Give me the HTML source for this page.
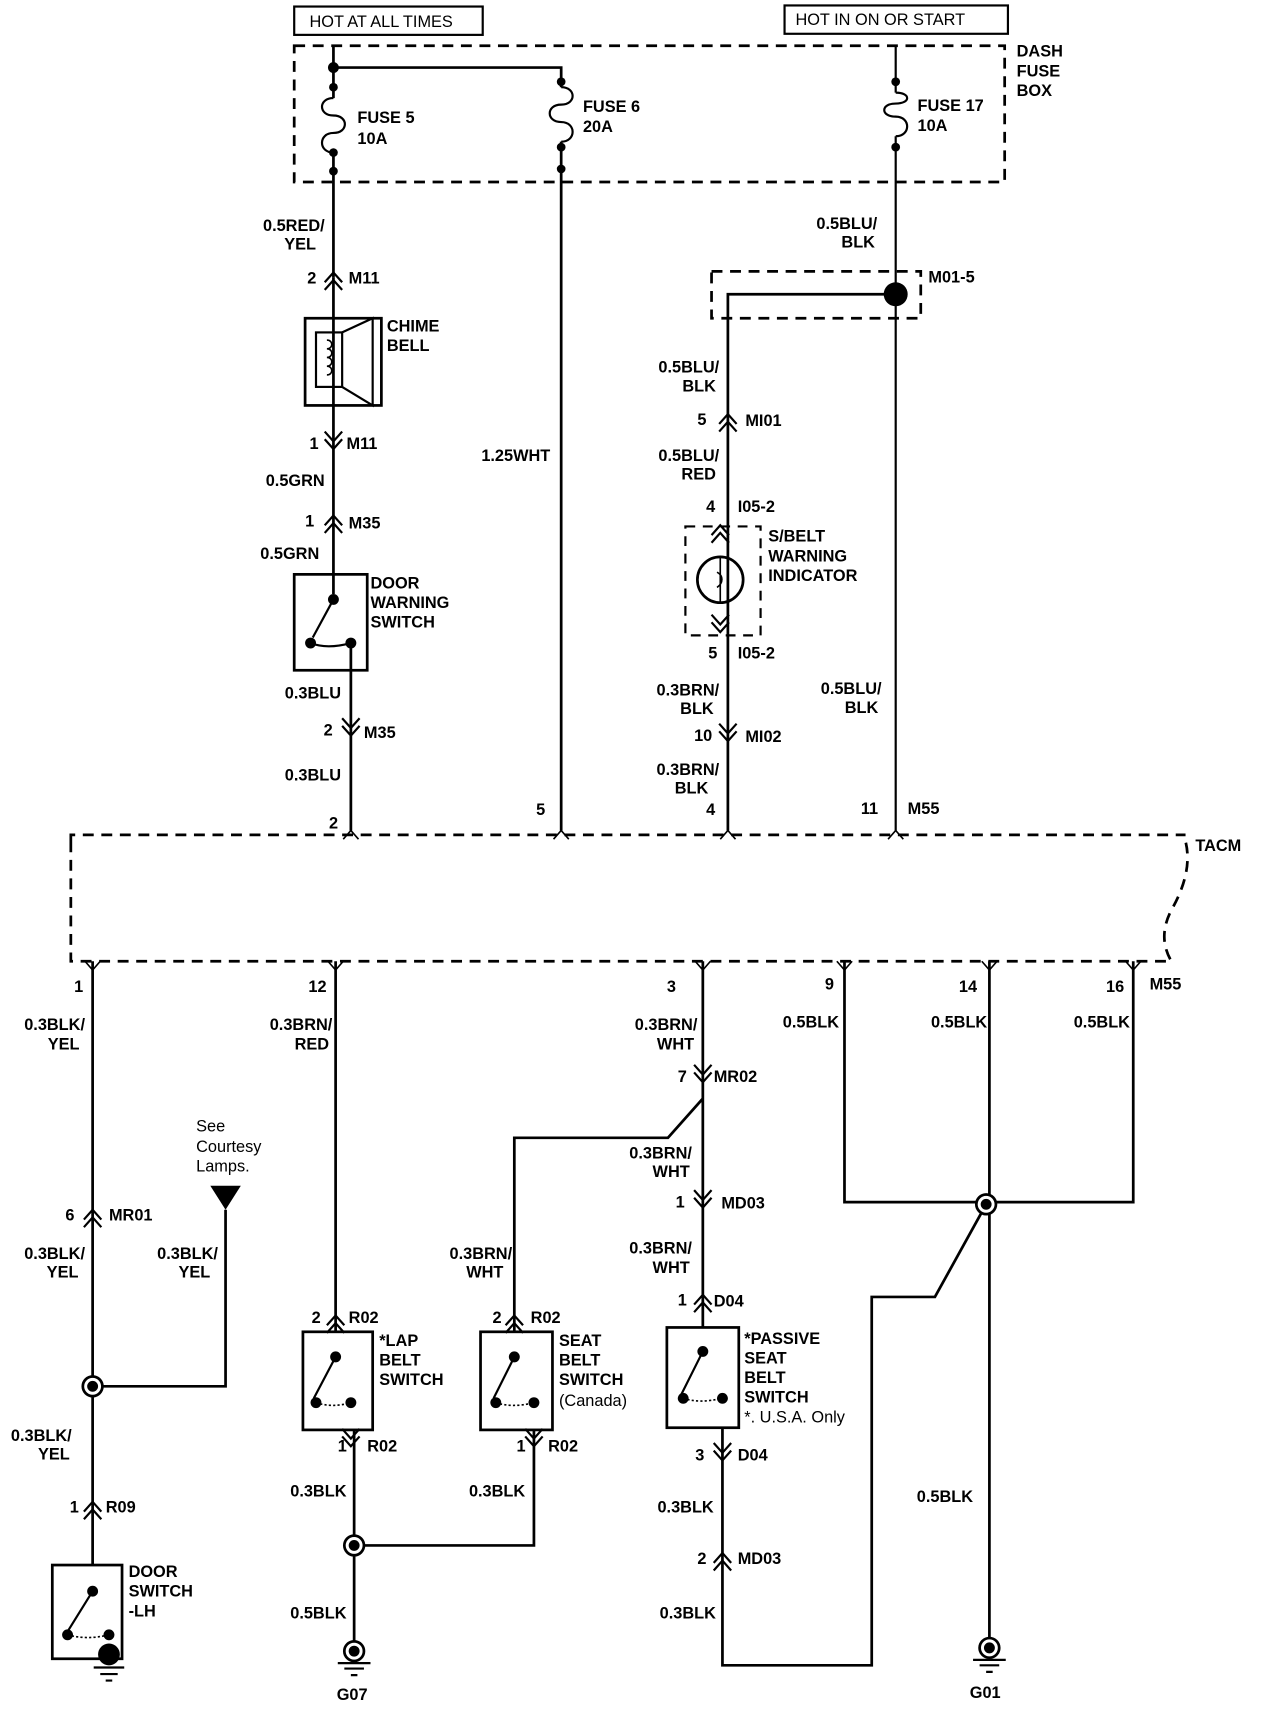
<!DOCTYPE html>
<html><head><meta charset="utf-8"><style>
html,body{margin:0;padding:0;background:#fff}
svg{display:block}
text{font-family:"Liberation Sans",Arial,sans-serif;font-weight:bold;font-size:15px;fill:#000}
.r{text-anchor:end}
.n{font-weight:normal}
</style></head><body>
<svg width="1264" height="1710" viewBox="0 0 1160 1569" preserveAspectRatio="none" xmlns="http://www.w3.org/2000/svg">
<defs>
<path id="up" d="M-8,4 L0,-5 L8,4 M-8,11 L0,2 L8,11" fill="none" stroke="#000" stroke-width="2"/>
<path id="dn" d="M-8,-4 L0,5 L8,-4 M-8,-11 L0,-2 L8,-11" fill="none" stroke="#000" stroke-width="2"/>
<path id="tv" d="M-7,-6 L0,2 L7,-6" fill="none" stroke="#000" stroke-width="1.5"/>
<g id="jn"><circle r="9" fill="#fff" stroke="#000" stroke-width="2.5"/><circle r="5" fill="#000"/></g>
<g id="gnd"><circle r="9" fill="#fff" stroke="#000" stroke-width="2.5"/><circle r="5" fill="#000"/><path d="M-15,11 H15 M-9,16 H9 M-3,22 H3" stroke="#000" stroke-width="2"/></g>
</defs>
<g fill="none" stroke="#000" stroke-width="2.5">
<!-- top boxes -->
<rect x="270" y="6" width="173" height="26" stroke-width="2"/>
<rect x="720" y="5" width="205" height="26" stroke-width="2"/>
<rect x="270" y="42" width="652" height="125" stroke-dasharray="10,7" stroke-width="2.5"/>
<!-- fuse 5 -->
<path d="M306,42 V90 M306,140 V255 M306,62 H515 V80 M515,130 V762"/>
<path d="M306,90 c-14,0 -14,16 0,16 c14,0 14,16 0,16 c-14,0 -14,18 0,18 M515,80 c14,0 14,16 0,16 c-14,0 -14,16 0,16 c14,0 14,18 0,18" stroke-width="2"/>
<path d="M822,42 V85 M822,125 V762 M822,85 c14,0 14,10 0,10 c-14,0 -14,12 0,12 c14,0 14,18 0,18" stroke-width="2"/>
<!-- left column -->
<path d="M306,255 V527 M306,527 V545 M322,590 V762"/>
<rect x="280" y="292" width="70" height="80"/>
<rect x="290" y="305" width="24" height="50" stroke-width="2"/>
<path d="M314,305 L342,292 V372 L314,355" stroke-width="2"/>
<path d="M300,312 c6,0 6,8 0,8 c6,0 6,8 0,8 c6,0 6,8 0,8 c6,0 6,8 0,8" stroke-width="1.5"/>
<rect x="270" y="527" width="67" height="88"/>
<path d="M306,550 L287,585 M285,590 Q300,596 322,590" stroke-width="2"/>
<!-- 1.25 WHT / right -->
<path d="M822,270 H668 V762"/>
<rect x="653" y="249" width="192" height="43" stroke-dasharray="10,7"/>
<rect x="629" y="483" width="69" height="100" stroke-dasharray="9,7" stroke-width="2"/>
<circle cx="661" cy="532" r="21" stroke-width="2.5"/>
<!-- TACM -->
<path d="M65,772 V882 H1075 Q1062,860 1075,835 Q1095,800 1088,772 M65,772 V766 H1088" stroke-dasharray="10,7"/>
<!-- bottom wires -->
<path d="M85,882 V1436 M85,1272 H207 V1110"/>
<path d="M308,882 V1222 M325,1312 V1510 M325,1418 H490 V1312"/>
<path d="M645,882 V1008 L613,1044 H472 V1222 M645,1008 V1218 M663,1310 V1528 H800 V1190 H858 L905,1105"/>
<path d="M775,882 V1103 H1040 V882 M908,882 V1510"/>
<rect x="48" y="1436" width="64" height="86"/>
<rect x="278" y="1222" width="64" height="90"/>
<rect x="441" y="1222" width="66" height="90"/>
<rect x="612" y="1218" width="66" height="92"/>
<path d="M85,1460 L62,1497 M308,1245 L288,1283 M472,1245 L453,1283 M645,1240 L625,1280" stroke-width="2"/>
<path d="M62,1500 Q80,1505 100,1500 M290,1287 Q305,1292 322,1287 M455,1287 Q470,1292 490,1287 M627,1283 Q642,1288 663,1283" stroke-width="1.5" stroke-dasharray="2,2"/>
</g>
<g fill="#000">
<circle cx="306" cy="62" r="5"/><circle cx="306" cy="80" r="4"/><circle cx="306" cy="140" r="4"/><circle cx="306" cy="157" r="4"/>
<circle cx="515" cy="75" r="4"/><circle cx="515" cy="135" r="4"/><circle cx="515" cy="155" r="4"/>
<circle cx="822" cy="75" r="4"/><circle cx="822" cy="135" r="4"/>
<circle cx="822" cy="270" r="11"/>
<circle cx="306" cy="550" r="5"/><circle cx="285" cy="590" r="5"/><circle cx="322" cy="590" r="5"/>
<circle cx="85" cy="1460" r="5"/><circle cx="62" cy="1500" r="5"/><circle cx="100" cy="1500" r="5"/>
<circle cx="308" cy="1245" r="5"/><circle cx="290" cy="1287" r="5"/><circle cx="322" cy="1287" r="5"/>
<circle cx="472" cy="1245" r="5"/><circle cx="455" cy="1287" r="5"/><circle cx="490" cy="1287" r="5"/>
<circle cx="645" cy="1240" r="5"/><circle cx="627" cy="1283" r="5"/><circle cx="663" cy="1283" r="5"/>
<path d="M193,1088 H221 L207,1110 Z"/>
<circle cx="100" cy="1518" r="10"/>
</g>
<path d="M86,1530 H114 M92,1536 H108 M97,1542 H103" stroke="#000" stroke-width="2"/>
<path d="M661,511 V553 M658,525 c6,3 6,10 0,14" stroke="#000" stroke-width="1.5" fill="none"/>
<use href="#up" x="306" y="255"/><use href="#dn" x="306" y="407"/><use href="#up" x="306" y="478"/><use href="#dn" x="322" y="670"/>
<use href="#up" x="668" y="385"/><use href="#up" x="661" y="487"/><use href="#dn" x="661" y="575"/><use href="#dn" x="668" y="675"/>
<use href="#up" x="85" y="1115"/><use href="#up" x="85" y="1383"/><use href="#up" x="308" y="1212"/><use href="#dn" x="322" y="1322"/>
<use href="#up" x="472" y="1212"/><use href="#dn" x="490" y="1322"/><use href="#dn" x="645" y="988"/><use href="#dn" x="645" y="1103"/>
<use href="#up" x="645" y="1193"/><use href="#dn" x="663" y="1335"/><use href="#up" x="663" y="1430"/>
<use href="#tv" x="322" y="768" transform="rotate(180 322 766)"/><use href="#tv" x="515" y="768" transform="rotate(180 515 766)"/><use href="#tv" x="668" y="768" transform="rotate(180 668 766)"/><use href="#tv" x="822" y="768" transform="rotate(180 822 766)"/>
<use href="#tv" x="85" y="888"/><use href="#tv" x="308" y="888"/><use href="#tv" x="645" y="888"/><use href="#tv" x="775" y="888"/><use href="#tv" x="908" y="888"/><use href="#tv" x="1040" y="888"/>
<use href="#jn" x="85" y="1272"/><use href="#jn" x="325" y="1418"/><use href="#jn" x="905" y="1105"/>
<use href="#gnd" x="325" y="1515"/><use href="#gnd" x="908" y="1512"/>
<g>
<text class="n" x="284" y="25">HOT AT ALL TIMES</text>
<text class="n" x="730" y="23">HOT IN ON OR START</text>
<text x="933" y="52">DASH</text><text x="933" y="70">FUSE</text><text x="933" y="88">BOX</text>
<text x="328" y="113">FUSE 5</text><text x="328" y="132">10A</text>
<text x="535" y="103">FUSE 6</text><text x="535" y="121">20A</text>
<text x="842" y="102">FUSE 17</text><text x="842" y="120">10A</text>
<text class="r" x="298" y="212">0.5RED/</text><text class="r" x="290" y="229">YEL</text>
<text x="282" y="260">2</text><text x="320" y="260">M11</text>
<text x="355" y="304">CHIME</text><text x="355" y="322">BELL</text>
<text x="284" y="412">1</text><text x="318" y="412">M11</text>
<text class="r" x="298" y="446">0.5GRN</text>
<text x="280" y="483">1</text><text x="320" y="485">M35</text>
<text class="r" x="293" y="513">0.5GRN</text>
<text x="340" y="540">DOOR</text><text x="340" y="558">WARNING</text><text x="340" y="576">SWITCH</text>
<text class="r" x="313" y="641">0.3BLU</text>
<text x="297" y="675">2</text><text x="334" y="677">M35</text>
<text class="r" x="313" y="716">0.3BLU</text>
<text x="302" y="760">2</text><text x="492" y="748">5</text><text x="648" y="748">4</text><text x="790" y="747">11</text><text x="833" y="747">M55</text>
<text class="r" x="505" y="423">1.25WHT</text>
<text class="r" x="805" y="210">0.5BLU/</text><text class="r" x="803" y="227">BLK</text>
<text x="852" y="259">M01-5</text>
<text class="r" x="660" y="342">0.5BLU/</text><text class="r" x="657" y="359">BLK</text>
<text x="640" y="390">5</text><text x="684" y="391">MI01</text>
<text class="r" x="660" y="423">0.5BLU/</text><text class="r" x="657" y="440">RED</text>
<text x="648" y="470">4</text><text x="677" y="470">I05-2</text>
<text x="705" y="497">S/BELT</text><text x="705" y="515">WARNING</text><text x="705" y="533">INDICATOR</text>
<text x="650" y="604">5</text><text x="677" y="604">I05-2</text>
<text class="r" x="660" y="638">0.3BRN/</text><text class="r" x="655" y="655">BLK</text>
<text x="637" y="680">10</text><text x="684" y="681">MI02</text>
<text class="r" x="660" y="711">0.3BRN/</text><text class="r" x="650" y="728">BLK</text>
<text class="r" x="809" y="637">0.5BLU/</text><text class="r" x="806" y="654">BLK</text>
<text x="1097" y="781">TACM</text>
<text x="68" y="910">1</text><text x="283" y="910">12</text><text x="612" y="910">3</text><text x="757" y="908">9</text><text x="880" y="910">14</text><text x="1015" y="910">16</text><text x="1055" y="908">M55</text>
<text class="r" x="78" y="945">0.3BLK/</text><text class="r" x="73" y="963">YEL</text>
<text class="r" x="305" y="945">0.3BRN/</text><text class="r" x="302" y="963">RED</text>
<text class="r" x="640" y="945">0.3BRN/</text><text class="r" x="637" y="963">WHT</text>
<text class="r" x="770" y="943">0.5BLK</text><text class="r" x="906" y="943">0.5BLK</text><text class="r" x="1037" y="943">0.5BLK</text>
<text x="622" y="993">7</text><text x="655" y="993">MR02</text>
<text class="n" x="180" y="1038">See</text><text class="n" x="180" y="1057">Courtesy</text><text class="n" x="180" y="1075">Lamps.</text>
<text x="60" y="1120">6</text><text x="100" y="1120">MR01</text>
<text class="r" x="635" y="1063">0.3BRN/</text><text class="r" x="633" y="1080">WHT</text>
<text x="620" y="1108">1</text><text x="662" y="1109">MD03</text>
<text class="r" x="78" y="1155">0.3BLK/</text><text class="r" x="72" y="1172">YEL</text>
<text class="r" x="200" y="1155">0.3BLK/</text><text class="r" x="193" y="1172">YEL</text>
<text class="r" x="470" y="1155">0.3BRN/</text><text class="r" x="462" y="1172">WHT</text>
<text class="r" x="635" y="1150">0.3BRN/</text><text class="r" x="633" y="1168">WHT</text>
<text x="622" y="1198">1</text><text x="655" y="1199">D04</text>
<text x="286" y="1214">2</text><text x="320" y="1214">R02</text>
<text x="452" y="1214">2</text><text x="487" y="1214">R02</text>
<text x="348" y="1235">*LAP</text><text x="348" y="1253">BELT</text><text x="348" y="1271">SWITCH</text>
<text x="513" y="1235">SEAT</text><text x="513" y="1253">BELT</text><text x="513" y="1271">SWITCH</text><text class="n" x="513" y="1290">(Canada)</text>
<text x="683" y="1233">*PASSIVE</text><text x="683" y="1251">SEAT</text><text x="683" y="1269">BELT</text><text x="683" y="1287">SWITCH</text><text class="n" x="683" y="1305">*. U.S.A. Only</text>
<text x="10" y="1322">0.3BLK/</text><text class="r" x="64" y="1339">YEL</text>
<text x="310" y="1332">1</text><text x="337" y="1332">R02</text>
<text x="474" y="1332">1</text><text x="503" y="1332">R02</text>
<text x="638" y="1340">3</text><text x="677" y="1340">D04</text>
<text x="64" y="1388">1</text><text x="97" y="1388">R09</text>
<text class="r" x="318" y="1373">0.3BLK</text><text class="r" x="482" y="1373">0.3BLK</text><text class="r" x="655" y="1388">0.3BLK</text>
<text class="r" x="893" y="1378">0.5BLK</text>
<text x="640" y="1435">2</text><text x="677" y="1435">MD03</text>
<text x="118" y="1447">DOOR</text><text x="118" y="1465">SWITCH</text><text x="118" y="1483">-LH</text>
<text class="r" x="318" y="1485">0.5BLK</text><text class="r" x="657" y="1485">0.3BLK</text>
<text x="309" y="1560">G07</text><text x="890" y="1558">G01</text>
</g>
</svg>
</body></html>
